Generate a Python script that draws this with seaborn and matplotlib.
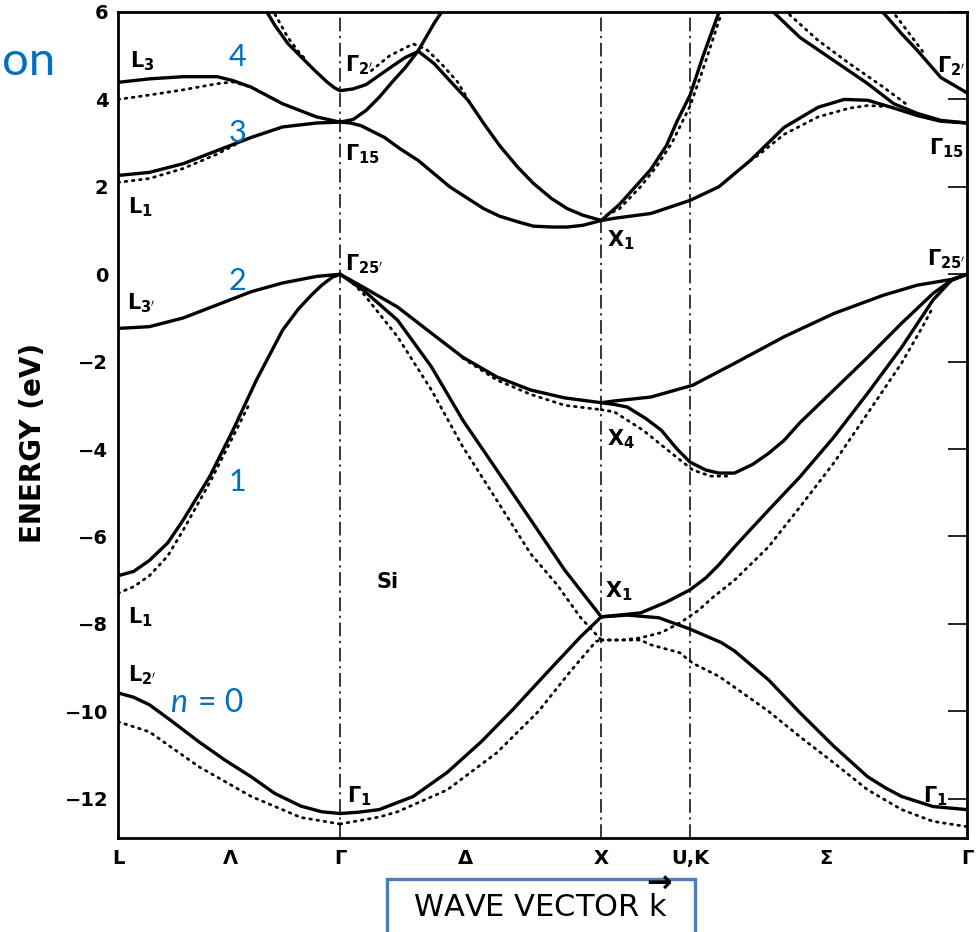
import matplotlib
matplotlib.use("Agg")
import matplotlib.pyplot as plt
import matplotlib.patches as patches
import seaborn as sns

sns.set_style("white")
plt.rcParams['font.family'] = ['DejaVu Sans']
plt.rcParams['mathtext.fontset'] = 'dejavusans'
plt.rcParams['mathtext.default'] = 'bf'
plt.rcParams['text.color'] = 'black'
plt.rcParams['xtick.color'] = 'black'
plt.rcParams['ytick.color'] = 'black'

# ---------------- path through the Brillouin zone (k in 2*pi/a) ----------------
sym_k = [0.0, 0.43, 0.85, 1.33, 1.85, 2.19, 2.71, 3.25]
sym_labels = ["L", "Λ", "Γ", "Δ", "X", "U,K", "Σ", "Γ"]
zone_lines = [0.85, 1.85, 2.19]
energy_ticks = [-12, -10, -8, -6, -4, -2, 0, 2, 4, 6]

# ---------------- solid bands ----------------
# n = 0
b0_lg_k = [0.00, 0.06, 0.12, 0.20, 0.31, 0.41, 0.51, 0.60, 0.70, 0.78, 0.85]
b0_lg_e = [-9.58, -9.68, -9.85, -10.20, -10.70, -11.12, -11.50, -11.88, -12.17, -12.30, -12.34]
b0_gx_k = [0.85, 0.92, 1.00, 1.13, 1.26, 1.39, 1.51, 1.64, 1.77, 1.85]
b0_gx_e = [-12.34, -12.31, -12.25, -11.95, -11.40, -10.70, -9.97, -9.13, -8.30, -7.84]
b0_xg_k = [1.85, 1.95, 2.07, 2.19, 2.31, 2.36, 2.49, 2.61, 2.74, 2.87, 2.94, 3.00, 3.12, 3.25]
b0_xg_e = [-7.84, -7.80, -7.86, -8.12, -8.43, -8.62, -9.28, -10.03, -10.80, -11.50, -11.76, -11.95, -12.18, -12.25]

# n = 1
b1_lg_k = [0.00, 0.06, 0.12, 0.19, 0.25, 0.35, 0.44, 0.53, 0.63, 0.69, 0.74, 0.78, 0.82, 0.85]
b1_lg_e = [-6.90, -6.80, -6.55, -6.15, -5.62, -4.64, -3.57, -2.42, -1.28, -0.80, -0.48, -0.25, -0.07, 0.00]
b1_gx_k = [0.85, 0.94, 1.07, 1.20, 1.32, 1.45, 1.58, 1.71, 1.85]
b1_gx_e = [0.00, -0.37, -1.05, -2.12, -3.34, -4.48, -5.62, -6.77, -7.84]
b1_xg_k = [1.85, 1.95, 2.00, 2.10, 2.19, 2.25, 2.30, 2.36, 2.42, 2.49, 2.61, 2.74, 2.87, 3.00, 3.12, 3.19, 3.25]
b1_xg_e = [-7.84, -7.78, -7.75, -7.50, -7.22, -6.95, -6.65, -6.24, -5.85, -5.40, -4.64, -3.73, -2.72,
           -1.67, -0.59, -0.14, 0.00]

# n = 2
b2_lg_k = [0.00, 0.12, 0.25, 0.38, 0.51, 0.63, 0.76, 0.85]
b2_lg_e = [-1.24, -1.20, -1.00, -0.70, -0.40, -0.20, -0.05, 0.00]
b2_gx_k = [0.85, 0.94, 1.07, 1.20, 1.32, 1.45, 1.58, 1.71, 1.85]
b2_gx_e = [0.00, -0.30, -0.75, -1.35, -1.90, -2.35, -2.65, -2.83, -2.94]
b2_xg_k = [1.85, 1.90, 2.04, 2.20, 2.36, 2.55, 2.74, 2.93, 3.06, 3.19, 3.25]
b2_xg_e = [-2.94, -2.90, -2.81, -2.54, -2.04, -1.43, -0.90, -0.48, -0.25, -0.12, 0.00]
b2b_xg_k = [1.85, 1.90, 1.95, 2.02, 2.08, 2.14, 2.19, 2.25, 2.30, 2.36, 2.43, 2.49,
            2.55, 2.61, 2.74, 2.87, 3.00, 3.12, 3.19, 3.25]
b2b_xg_e = [-2.94, -2.98, -3.04, -3.30, -3.57, -4.00, -4.30, -4.48, -4.55, -4.55, -4.35, -4.10,
            -3.80, -3.40, -2.65, -1.90, -1.12, -0.44, -0.14, 0.00]

# n = 3
b3_lg_k = [0.00, 0.12, 0.25, 0.38, 0.51, 0.63, 0.76, 0.85]
b3_lg_e = [2.26, 2.33, 2.53, 2.83, 3.13, 3.37, 3.46, 3.48]
b3_gx_k = [0.85, 0.89, 0.93, 1.02, 1.08, 1.15, 1.21, 1.27, 1.34, 1.40, 1.46, 1.53, 1.59, 1.66, 1.72, 1.78, 1.85]
b3_gx_e = [3.48, 3.46, 3.40, 3.13, 2.87, 2.60, 2.30, 2.00, 1.73, 1.50, 1.33, 1.20, 1.10, 1.08, 1.08, 1.12, 1.23]
b3_xg_k = [1.85, 1.90, 2.04, 2.19, 2.30, 2.42, 2.55, 2.68, 2.78, 2.87, 2.96, 3.06, 3.15, 3.25]
b3_xg_e = [1.23, 1.28, 1.39, 1.69, 2.00, 2.60, 3.36, 3.82, 4.00, 3.98, 3.82, 3.63, 3.50, 3.46]

# n = 4
b4_lg_k = [0.00, 0.12, 0.25, 0.38, 0.44, 0.51, 0.63, 0.76, 0.85]
b4_lg_e = [4.39, 4.47, 4.52, 4.52, 4.43, 4.28, 3.90, 3.60, 3.48]
b4_gx_k = [0.85, 0.90, 0.95, 1.00, 1.05, 1.10, 1.15, 1.21, 1.25]
b4_gx_e = [3.48, 3.54, 3.75, 4.05, 4.40, 4.73, 5.12, 5.74, 6.10]

# upper conduction bands
b5_lg_k = [0.56, 0.60, 0.65, 0.70, 0.75, 0.80, 0.83, 0.85]
b5_lg_e = [6.10, 5.70, 5.28, 4.98, 4.68, 4.40, 4.26, 4.20]
b5_gx_k = [0.85, 0.90, 0.95, 1.00, 1.05, 1.10, 1.15, 1.21, 1.27, 1.34, 1.40, 1.46, 1.53, 1.59, 1.66, 1.72,
           1.78, 1.85]
b5_gx_e = [4.20, 4.24, 4.34, 4.55, 4.76, 4.96, 5.10, 4.82, 4.43, 3.98, 3.45, 2.95, 2.45, 2.08, 1.73, 1.50,
           1.35, 1.23]
b5_xu_k = [1.85, 1.92, 1.98, 2.04, 2.10, 2.14, 2.19, 2.24, 2.31]
b5_xu_e = [1.23, 1.60, 2.00, 2.40, 2.95, 3.50, 4.10, 5.00, 6.15]
b6_kg_k = [2.50, 2.61, 2.74, 2.87, 2.97, 3.06, 3.15, 3.25]
b6_kg_e = [6.05, 5.42, 4.89, 4.36, 3.90, 3.68, 3.52, 3.46]
b7_kg_k = [2.92, 3.00, 3.06, 3.15, 3.25]
b7_kg_e = [6.05, 5.50, 5.12, 4.50, 4.15]

# ---------------- dotted bands ----------------
d0_lg_k = [0.00, 0.12, 0.31, 0.51, 0.70, 0.85]
d0_lg_e = [-10.24, -10.47, -11.27, -11.95, -12.43, -12.58]
d0_gx_k = [0.85, 1.00, 1.07, 1.26, 1.45, 1.61, 1.73, 1.83, 1.85]
d0_gx_e = [-12.58, -12.42, -12.30, -11.80, -10.95, -10.00, -9.10, -8.40, -8.37]
d0_xg_k = [1.85, 2.00, 2.04, 2.15, 2.20, 2.30, 2.36, 2.49, 2.61, 2.74, 2.87, 3.00, 3.12, 3.25]
d0_xg_e = [-8.37, -8.37, -8.48, -8.66, -8.90, -9.20, -9.45, -10.00, -10.58, -11.18, -11.80, -12.25, -12.52, -12.64]

d1_lg_k = [0.00, 0.06, 0.12, 0.19, 0.25, 0.35, 0.44, 0.50]
d1_lg_e = [-7.30, -7.15, -6.90, -6.45, -5.85, -4.78, -3.72, -3.00]
d1_gx_k = [0.88, 0.94, 1.07, 1.20, 1.32, 1.45, 1.58, 1.68, 1.77, 1.85]
d1_gx_e = [-0.10, -0.45, -1.43, -2.65, -3.95, -5.17, -6.40, -7.10, -7.85, -8.37]
d1_xg_k = [1.85, 1.93, 2.00, 2.08, 2.15, 2.22, 2.28, 2.36, 2.49, 2.61, 2.74, 2.87, 3.00, 3.08, 3.12]
d1_xg_e = [-8.37, -8.37, -8.32, -8.20, -7.98, -7.70, -7.38, -7.00, -6.24, -5.33, -4.32, -3.18, -2.03, -1.20, -0.75]

d2_gx_k = [1.32, 1.45, 1.58, 1.71, 1.85]
d2_gx_e = [-1.92, -2.42, -2.75, -3.00, -3.10]
d2_xk_k = [1.85, 1.90, 2.01, 2.12, 2.20, 2.27, 2.33]
d2_xk_e = [-3.10, -3.15, -3.57, -4.10, -4.48, -4.62, -4.62]

d3_lg_k = [0.00, 0.12, 0.25, 0.38, 0.45]
d3_lg_e = [2.10, 2.19, 2.42, 2.75, 2.97]
d3_kg_k = [2.42, 2.45, 2.55, 2.68, 2.80, 2.87, 2.96]
d3_kg_e = [2.60, 2.72, 3.20, 3.60, 3.80, 3.86, 3.83]

d4_lg_k = [0.00, 0.12, 0.25, 0.38, 0.44, 0.50]
d4_lg_e = [4.00, 4.10, 4.22, 4.36, 4.40, 4.30]

d5_lg_k = [0.59, 0.60, 0.65, 0.69, 0.72]
d5_lg_e = [6.10, 5.96, 5.42, 5.10, 4.90]
d5_gx_k = [0.97, 1.04, 1.13, 1.18, 1.24, 1.30, 1.33]
d5_gx_e = [4.66, 5.00, 5.27, 5.15, 4.80, 4.40, 4.10]
d5_xu_k = [1.87, 1.92, 2.00, 2.06, 2.12, 2.19, 2.24, 2.32]
d5_xu_e = [1.35, 1.50, 2.00, 2.45, 3.00, 3.85, 4.70, 6.15]
d6_kg_k = [2.55, 2.68, 2.80, 2.93, 3.02]
d6_kg_e = [6.05, 5.35, 4.82, 4.28, 3.88]
d7_kg_k = [2.96, 3.02, 3.08]
d7_kg_e = [6.05, 5.58, 5.10]

solid = [
    (b0_lg_k, b0_lg_e), (b0_gx_k, b0_gx_e), (b0_xg_k, b0_xg_e),
    (b1_lg_k, b1_lg_e), (b1_gx_k, b1_gx_e), (b1_xg_k, b1_xg_e),
    (b2_lg_k, b2_lg_e), (b2_gx_k, b2_gx_e), (b2_xg_k, b2_xg_e), (b2b_xg_k, b2b_xg_e),
    (b3_lg_k, b3_lg_e), (b3_gx_k, b3_gx_e), (b3_xg_k, b3_xg_e),
    (b4_lg_k, b4_lg_e), (b4_gx_k, b4_gx_e),
    (b5_lg_k, b5_lg_e), (b5_gx_k, b5_gx_e), (b5_xu_k, b5_xu_e),
    (b6_kg_k, b6_kg_e), (b7_kg_k, b7_kg_e),
]
dotted = [
    (d0_lg_k, d0_lg_e), (d0_gx_k, d0_gx_e), (d0_xg_k, d0_xg_e),
    (d1_lg_k, d1_lg_e), (d1_gx_k, d1_gx_e), (d1_xg_k, d1_xg_e),
    (d2_gx_k, d2_gx_e), (d2_xk_k, d2_xk_e),
    (d3_lg_k, d3_lg_e), (d3_kg_k, d3_kg_e), (d4_lg_k, d4_lg_e),
    (d5_lg_k, d5_lg_e), (d5_gx_k, d5_gx_e), (d5_xu_k, d5_xu_e),
    (d6_kg_k, d6_kg_e), (d7_kg_k, d7_kg_e),
]

# point labels: (text, k, E, horizontal alignment)
point_labels = [
    (r"L$_3$", 0.046, 4.87, "left"), (r"L$_1$", 0.038, 1.53, "left"),
    (r"L$_{3'}$", 0.035, -0.66, "left"), (r"L$_1$", 0.038, -7.84, "left"),
    (r"L$_{2'}$", 0.038, -9.17, "left"),
    (r"Γ$_{2'}$", 0.87, 4.78, "left"), (r"Γ$_{15}$", 0.87, 2.74, "left"),
    (r"Γ$_{25'}$", 0.87, 0.23, "left"), (r"Γ$_1$", 0.877, -11.95, "left"),
    (r"X$_1$", 1.873, 0.78, "left"), (r"X$_4$", 1.873, -3.77, "left"),
    (r"X$_1$", 1.866, -7.25, "left"),
    (r"Γ$_{2'}$", 3.245, 4.75, "right"), (r"Γ$_{15}$", 3.237, 2.88, "right"),
    (r"Γ$_{25'}$", 3.245, 0.34, "right"), (r"Γ$_1$", 3.176, -11.95, "right"),
    ("Si", 1.03, -7.04, "center"),
]
band_numbers = [("4", 0.456, 4.98), ("3", 0.456, 3.22), ("2", 0.456, -0.16), ("1", 0.456, -4.75)]

blue = "#0070c0"

fig = plt.figure(figsize=(9.8, 9.32), dpi=100)
ax = fig.add_axes([118 / 980, 1 - 838 / 932, (967 - 118) / 980, (838 - 12) / 932])

for kk, ee in solid:
    sns.lineplot(x=kk, y=ee, ax=ax, color="black", linewidth=2.4, sort=False,
                 estimator=None, legend=False)
for kk, ee in dotted:
    sns.lineplot(x=kk, y=ee, ax=ax, color="black", linewidth=2.0, sort=False,
                 estimator=None, legend=False, linestyle=(0, (0.6, 2.0)),
                 dash_capstyle="round")

for xl in zone_lines:
    ax.axvline(xl, color="black", lw=1.1, ls=(0, (9, 3, 1.5, 3)), zorder=1)

ax.set_xlim(0, 3.25)
ax.set_ylim(-12.9, 6.0)
ax.set_yticks(energy_ticks)
ax.set_xticks(sym_k, sym_labels)
ax.tick_params(axis="y", direction="in", length=14, width=1.2, labelsize=14,
               right=True, pad=7, colors="black")
ax.tick_params(axis="x", length=0, labelsize=14, pad=8, colors="black")
for lab in ax.get_yticklabels() + ax.get_xticklabels():
    lab.set_fontweight("bold")
for sp in ax.spines.values():
    sp.set_linewidth(2)
    sp.set_color("black")

for txt, kx, ey, ha in point_labels:
    ax.text(kx, ey, txt, ha=ha, va="center", fontsize=15, fontweight="bold", color="black")

for txt, kx, ey in band_numbers:
    ax.text(kx, ey, txt, ha="center", va="center", fontsize=22, color=blue, family="Lato")
ax.text(0.199, -10.01, "n", ha="left", va="baseline", fontsize=23, color=blue,
        family="Lato", style="italic")
ax.text(0.307, -10.01, "= 0", ha="left", va="baseline", fontsize=23, color=blue,
        family="Lato")

fig.text(2 / 980, 1 - 75 / 932, "on", ha="left", va="baseline", fontsize=34,
         color=blue, family="Lato")
fig.text(33 / 980, 1 - 443 / 932, "ENERGY (eV)", rotation=90, ha="center",
         va="center", fontsize=20, fontweight="bold", color="black")

fig.patches.append(patches.Rectangle((387 / 980, -0.01), 308 / 980, (940 - 878) / 932,
                                     transform=fig.transFigure, fill=False,
                                     edgecolor="#4a7ebb", linewidth=2.4))
fig.text(543 / 980, 1 - 917 / 932, r"WAVE VECTOR $\overrightarrow{\mathrm{k}}$",
         ha="center", va="baseline", fontsize=22, color="black")

fig.savefig("out.png", dpi=100)
